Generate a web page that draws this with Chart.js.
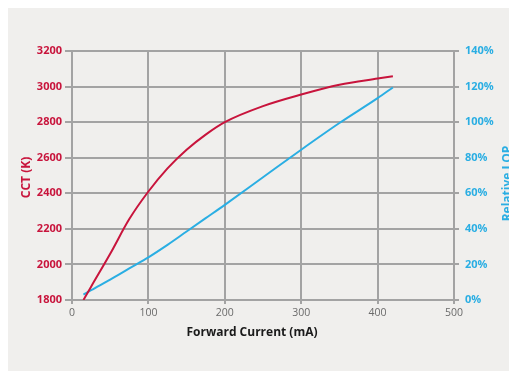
<!DOCTYPE html>
<html>
<head>
<meta charset="utf-8">
<script src="https://cdn.jsdelivr.net/npm/chart.js@4"></script>
<style>
  html, body { margin: 0; padding: 0; width: 100%; height: 100%; background: #fff; overflow: hidden; }
  #panel { position: absolute; left: 8px; top: 8px; right: 0; bottom: 0; background: #f0efed; }
  #wrap { position: absolute; left: 0; top: 0; width: 509px; height: 371px; }
</style>
</head>
<body>
<div id="panel"></div>
<div id="wrap"><canvas id="chart"></canvas></div>
<script>
// Curva CCT y LOP relativo frente a corriente directa.
const RED = "#c8143c";
const BLUE = "#2aaee3";
const GRID = "#a3a3a3";

const current = [15, 25, 50, 75, 100, 125, 150, 175, 200, 250, 300, 350, 400, 420];
const cct = [1800, 1875, 2060, 2255, 2410, 2540, 2645, 2730, 2800, 2890, 2955, 3010, 3045, 3058];
const lop = [3, 5.5, 11.5, 17.8, 24, 31, 38.5, 46, 53.5, 69, 84.5, 99.5, 113.5, 119.5];

const xTicks = [0, 100, 200, 300, 400, 500];
const cctTicks = [1800, 2000, 2200, 2400, 2600, 2800, 3000, 3200];
const lopTicks = [0, 20, 40, 60, 80, 100, 120, 140];

const pts = (ys) => current.map((x, i) => ({ x, y: ys[i] }));

// Títulos de ejes dibujados a mano (el derecho va de abajo a arriba).
const titles = {
  id: "titles",
  afterDraw(chart) {
    const { ctx, chartArea: a } = chart;
    ctx.save();
    ctx.font = "bold 12px 'Open Sans', sans-serif";
    ctx.textAlign = "center";
    ctx.textBaseline = "middle";
    ctx.fillStyle = "#1a1a1a";
    ctx.fillText("Forward Current (mA)", (a.left + a.right) / 2 - 11, a.bottom + 33);
    ctx.fillStyle = RED;
    ctx.translate(a.left - 45, (a.top + a.bottom) / 2 + 2);
    ctx.rotate(-Math.PI / 2);
    ctx.fillText("CCT (K)", 0, 0);
    ctx.restore();
    ctx.save();
    ctx.font = "bold 12px 'Open Sans', sans-serif";
    ctx.textAlign = "center";
    ctx.textBaseline = "middle";
    ctx.fillStyle = BLUE;
    ctx.translate(a.right + 54, (a.top + a.bottom) / 2 + 8);
    ctx.rotate(-Math.PI / 2);
    ctx.fillText("Relative LOP", 0, 0);
    ctx.restore();
  },
};

new Chart(document.getElementById("chart"), {
  type: "line",
  data: {
    datasets: [
      { data: pts(cct), yAxisID: "y", borderColor: RED, borderWidth: 2, pointRadius: 0,
        cubicInterpolationMode: "monotone" },
      { data: pts(lop), yAxisID: "y1", borderColor: BLUE, borderWidth: 2, pointRadius: 0,
        cubicInterpolationMode: "monotone" },
    ],
  },
  options: {
    responsive: true,
    maintainAspectRatio: false,
    animation: false,
    layout: { padding: { top: 51, left: 0, right: 0, bottom: 0 } },
    plugins: { legend: { display: false }, tooltip: { enabled: false } },
    scales: {
      x: {
        type: "linear", min: 0, max: 500,
        afterBuildTicks: s => { s.ticks = xTicks.map(v => ({ value: v })); },
        afterFit: s => { s.height = 71; },
        grid: { color: GRID, lineWidth: 2, tickLength: 4 },
        border: { color: GRID, width: 2 },
        ticks: { color: "#6a6a6a", padding: 3, callback: v => String(v),
          font: { family: "'Open Sans', sans-serif", size: 10.5 } },
      },
      y: {
        position: "left", min: 1800, max: 3200,
        afterBuildTicks: s => { s.ticks = cctTicks.map(v => ({ value: v })); },
        afterFit: s => { s.width = 72; },
        grid: { color: GRID, lineWidth: 2, tickLength: 7 },
        border: { color: GRID, width: 2 },
        ticks: { color: RED, padding: 3, callback: v => String(v),
          font: { family: "'Open Sans', sans-serif", size: 11, weight: "bold" } },
      },
      y1: {
        position: "right", min: 0, max: 140,
        afterBuildTicks: s => { s.ticks = lopTicks.map(v => ({ value: v })); },
        afterFit: s => { s.width = 55; },
        grid: { drawOnChartArea: false, color: GRID, lineWidth: 2, tickLength: 5 },
        border: { color: GRID, width: 2 },
        ticks: { color: BLUE, padding: 6, callback: v => v + "%",
          font: { family: "'Open Sans', sans-serif", size: 11, weight: "bold" } },
      },
    },
  },
  plugins: [titles],
});
</script>
</body>
</html>
